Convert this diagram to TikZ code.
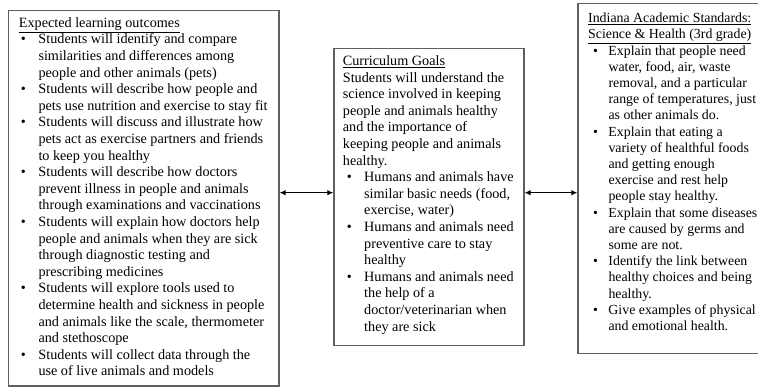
\documentclass[tikz,border=0pt]{standalone}
\usepackage{fontspec}
\setmainfont{Liberation Serif}
\usetikzlibrary{arrows.meta}
\definecolor{boxgray}{RGB}{95,95,95}
\newcommand{\bulA}{\hspace{2pt}\textbullet}
\newcommand{\bulB}{\hspace{4pt}\textbullet}
\newcommand{\bulC}{\hspace{5pt}\textbullet}
\begin{document}
\begin{tikzpicture}[x=1pt,y=-1pt,
  box/.style={draw=boxgray, line width=1.2pt, anchor=north west, inner sep=0pt},
  txt/.style={anchor=base west, inner sep=0pt, font=\fontsize{14.2}{16.6}\selectfont},
  txtsmall/.style={anchor=base west, inner sep=0pt, font=\fontsize{13.85}{16.2}\selectfont},
  link/.style={{Latex[length=6pt,width=5.5pt]}-{Latex[length=6pt,width=5.5pt]}, line width=1.1pt}]
\useasboundingbox (0,0) rectangle (758,387);
\clip (0,0) rectangle (758,387);
% boxes
\node[box, minimum width=270.6pt, minimum height=375.5pt] (L) at (7.7,10) {};
\node[box, minimum width=190pt, minimum height=296.7pt] (M) at (333.3,48.3) {};
\node[box, minimum width=230pt, minimum height=349.4pt] (R) at (577.3,3.3) {};
% texts
\node[txt] (Lt) at (18.7,27.3) {\begin{tabular}[t]{@{}p{19.6pt}@{}l@{}}
\multicolumn{2}{@{}l@{}}{\underline{Expected learning outcomes}}\\
\bulA & Students will identify and compare\\
 & similarities and differences among\\
 & people and other animals (pets)\\
\bulA & Students will describe how people and\\
 & pets use nutrition and exercise to stay fit\\
\bulA & Students will discuss and illustrate how\\
 & pets act as exercise partners and friends\\
 & to keep you healthy\\
\bulA & Students will describe how doctors\\
 & prevent illness in people and animals\\
 & through examinations and vaccinations\\
\bulA & Students will explain how doctors help\\
 & people and animals when they are sick\\
 & through diagnostic testing and\\
 & prescribing medicines\\
\bulA & Students will explore tools used to\\
 & determine health and sickness in people\\
 & and animals like the scale, thermometer\\
 & and stethoscope\\
\bulA & Students will collect data through the\\
 & use of live animals and models
\end{tabular}};
\node[txt] (Mt) at (342.7,65.6) {\begin{tabular}[t]{@{}p{21.3pt}@{}l@{}}
\multicolumn{2}{@{}l@{}}{\underline{Curriculum Goals}}\\
\multicolumn{2}{@{}l@{}}{Students will understand the}\\
\multicolumn{2}{@{}l@{}}{science involved in keeping}\\
\multicolumn{2}{@{}l@{}}{people and animals healthy}\\
\multicolumn{2}{@{}l@{}}{and the importance of}\\
\multicolumn{2}{@{}l@{}}{keeping people and animals}\\
\multicolumn{2}{@{}l@{}}{healthy.}\\
\bulB & Humans and animals have\\
 & similar basic needs (food,\\
 & exercise, water)\\
\bulB & Humans and animals need\\
 & preventive care to stay\\
 & healthy\\
\bulB & Humans and animals need\\
 & the help of a\\
 & doctor/veterinarian when\\
 & they are sick
\end{tabular}};
\node[txtsmall] (Rt) at (588,22.6) {\begin{tabular}[t]{@{}p{20.3pt}@{}l@{}}
\multicolumn{2}{@{}l@{}}{\underline{Indiana Academic Standards:}}\\
\multicolumn{2}{@{}l@{}}{\underline{Science \& Health (3rd grade)}}\\
\bulC & Explain that people need\\
 & water, food, air, waste\\
 & removal, and a particular\\
 & range of temperatures, just\\
 & as other animals do.\\
\bulC & Explain that eating a\\
 & variety of healthful foods\\
 & and getting enough\\
 & exercise and rest help\\
 & people stay healthy.\\
\bulC & Explain that some diseases\\
 & are caused by germs and\\
 & some are not.\\
\bulC & Identify the link between\\
 & healthy choices and being\\
 & healthy.\\
\bulC & Give examples of physical\\
 & and emotional health.
\end{tabular}};
% connectors
\coordinate (ay) at (0,192.7);
\draw[link] (L.east |- ay) -- (M.west |- ay);
\draw[link] (M.east |- ay) -- (R.west |- ay);
\end{tikzpicture}
\end{document}
